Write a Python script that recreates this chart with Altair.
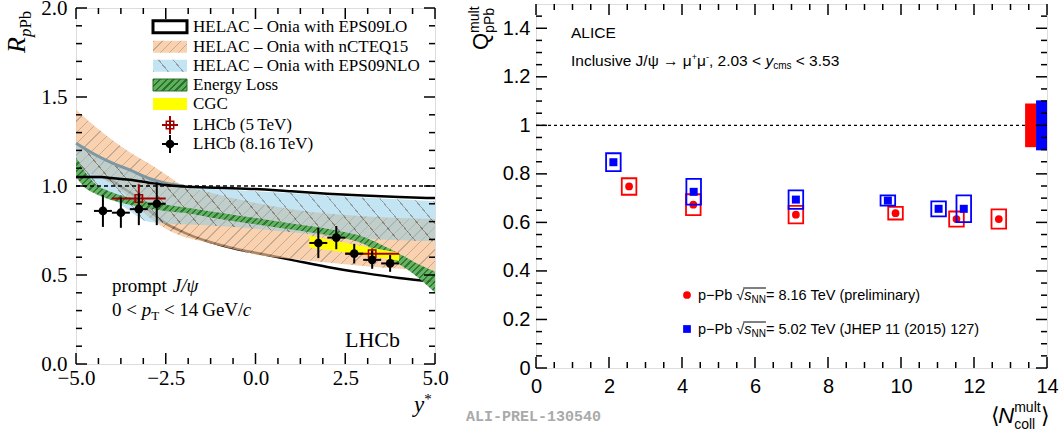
import math
import altair as alt
import pandas as pd

# ================= LEFT PANEL: LHCb prompt J/psi, R_pPb vs y* =================
eps09lo_up_x = [-5, -4.3, -4, -3.5, -3, -2.5, -2, -1, 0, 1, 2, 3, 4, 5]
eps09lo_up_y = [1.05, 1.05, 1.045, 1.035, 1.02, 1.005, 0.997, 0.99, 0.983, 0.97, 0.957, 0.946, 0.938, 0.932]
eps09lo_lo_x = [-5, -4.3, -4, -3.7, -3.4, -3.1, -2.8, -2.5, -2, -1.5, -1, -0.5, 0, 0.5, 1, 2, 3, 4, 5]
eps09lo_lo_y = [1.05, 1.05, 1.03, 0.99, 0.95, 0.89, 0.835, 0.79, 0.74, 0.70, 0.67, 0.645, 0.625, 0.605, 0.585, 0.545, 0.512, 0.483, 0.462]

ncteq_x = [-5, -4.5, -4, -3.5, -3, -2.5, -2, -1.5, -1, -0.5, 0, 1, 2, 3, 4, 5]
ncteq_hi = [1.43, 1.34, 1.26, 1.19, 1.13, 1.065, 1.0, 0.975, 0.95, 0.925, 0.905, 0.87, 0.845, 0.83, 0.82, 0.815]
ncteq_lo = [1.10, 1.06, 1.01, 0.93, 0.83, 0.76, 0.715, 0.69, 0.665, 0.64, 0.615, 0.59, 0.57, 0.55, 0.535, 0.52]

eps09nlo_x = [-5, -4.5, -4, -3.5, -3, -2.5, -2, -1, 0, 1, 2, 3, 4, 5]
eps09nlo_hi = [1.24, 1.18, 1.13, 1.09, 1.045, 1.015, 1.0, 0.985, 0.97, 0.96, 0.947, 0.935, 0.925, 0.915]
eps09nlo_lo = [1.08, 1.0, 0.93, 0.86, 0.80, 0.79, 0.785, 0.775, 0.76, 0.74, 0.72, 0.705, 0.695, 0.69]

eloss_x = [-5, -4.75, -4.5, -4, -3.5, -3, -2.5, -2, -1, 0, 1, 1.5, 2, 2.5, 3, 3.5, 4, 4.5, 5]
eloss_hi = [1.16, 1.08, 1.02, 0.965, 0.935, 0.91, 0.895, 0.88, 0.85, 0.82, 0.79, 0.775, 0.76, 0.74, 0.715, 0.67, 0.62, 0.565, 0.52]
eloss_lo = [1.05, 0.99, 0.96, 0.92, 0.895, 0.875, 0.86, 0.85, 0.815, 0.785, 0.755, 0.74, 0.725, 0.705, 0.675, 0.615, 0.56, 0.49, 0.40]

cgc_x = [1.5, 2.75, 4.0]
cgc_hi = [0.72, 0.67, 0.625]
cgc_lo = [0.655, 0.62, 0.58]

lhcb8_ystar = [-4.25, -3.75, -3.25, -2.75, 1.75, 2.25, 2.75, 3.25, 3.75]
lhcb8_r = [0.86, 0.85, 0.87, 0.90, 0.68, 0.71, 0.62, 0.585, 0.565]
lhcb8_err = [0.09, 0.085, 0.09, 0.12, 0.085, 0.065, 0.055, 0.05, 0.047]
lhcb8_halfbin = [0.25, 0.25, 0.25, 0.25, 0.25, 0.25, 0.25, 0.25, 0.25]

lhcb5_ystar = [-3.25, 3.25]
lhcb5_r = [0.93, 0.62]
lhcb5_err = [0.08, 0.03]
lhcb5_halfbin = [0.75, 0.75]

left_legend = ["HELAC \u2013 Onia with EPS09LO", "HELAC \u2013 Onia with nCTEQ15",
               "HELAC \u2013 Onia with EPS09NLO", "Energy Loss", "CGC",
               "LHCb (5\u2009TeV)", "LHCb (8.16\u2009TeV)"]

# ================= RIGHT PANEL: ALICE Q_pPb vs <Ncoll> =================
n8 = [2.55, 4.31, 7.12, 9.85, 11.52, 12.68]
q8 = [0.748, 0.673, 0.632, 0.638, 0.614, 0.614]
s8 = [0.034, 0.043, 0.036, 0.026, 0.031, 0.040]
n5 = [2.12, 4.32, 7.12, 9.64, 11.03, 11.72]
q5 = [0.848, 0.726, 0.694, 0.690, 0.656, 0.656]
s5 = [0.037, 0.053, 0.038, 0.021, 0.031, 0.055]
box_halfwidth = [0.2, 0.2, 0.2, 0.2, 0.2, 0.2]
glob_n0 = [13.4, 13.7]
glob_n1 = [13.7, 14.0]
glob_err = [0.09, 0.103]

# ================= helpers =================
LW, LH = 359, 356
RW, RH = 511, 364
SERIF, SANS, MONO = "Liberation Serif", "Liberation Sans", "Liberation Mono"

TIMES_W = {' ': 250, '\u2009': 167, '(': 333, ')': 333, '.': 250, '/': 278, '<': 564,
           '\u2013': 500, '*': 500,
           'A': 722, 'C': 667, 'E': 611, 'G': 722, 'H': 722, 'J': 444, 'L': 611, 'N': 722, 'O': 722,
           'P': 611, 'R': 611, 'S': 556, 'T': 611, 'V': 722, 'a': 444, 'b': 500, 'c': 444, 'e': 444,
           'g': 500, 'h': 500, 'i': 278, 'l': 278, 'm': 778, 'n': 500, 'o': 500, 'p': 500, 'r': 389,
           's': 389, 't': 278, 'w': 722, 'y': 444, '\u03c8': 686}
ARIAL_W = {' ': 278, '(': 333, ')': 333, '+': 584, ',': 278, '-': 333, '.': 278, '/': 278,
           '<': 584, '=': 584, 'A': 667, 'C': 722, 'E': 667, 'H': 722, 'I': 278, 'J': 500, 'L': 556,
           'N': 722, 'P': 667, 'Q': 778, 'T': 611, 'V': 667, 'a': 556, 'b': 556, 'c': 500, 'e': 556,
           'i': 222, 'l': 222, 'm': 833, 'n': 556, 'o': 556, 'p': 556, 'r': 333, 's': 500, 't': 278,
           'u': 556, 'v': 500, 'y': 500, '\u03c8': 712, '\u03bc': 576, '\u2192': 1000, '\u2212': 584,
           '\u221a': 549, '\u27e8': 333, '\u27e9': 333}


def text_width(s, size, table):
    tot = 0
    for c in s:
        if c.isdigit():
            tot += 500 if table is TIMES_W else 556
        else:
            tot += table.get(c, 500)
    return tot / 1000.0 * size


ONE = pd.DataFrame({"d": [0]})


def txt(t, x, y, size, font, italic=False, align="left", baseline="alphabetic",
        angle=0, color="black", weight="normal"):
    kw = dict(text=t, font=font, fontSize=size, align=align, baseline=baseline,
              color=color, fontWeight=weight)
    if italic:
        kw["fontStyle"] = "italic"
    if angle:
        kw["angle"] = angle
    return alt.Chart(ONE).mark_text(**kw).encode(x=alt.value(x), y=alt.value(y))


def rich(pieces, x0, y0, font, table, angle=0, color="black"):
    """Lay out text pieces one after another (leading blanks become an offset, as the
    renderer trims them)."""
    out, adv = [], 0.0
    for p in pieces:
        t, size, shift, italic = p[:4]
        advance = p[4] if len(p) > 4 else True
        lead = len(t) - len(t.lstrip(" "))
        off = adv + text_width(t[:lead], size, table)
        if angle == 0:
            x, y = x0 + off, y0 + shift
        else:
            x, y = x0 + shift, y0 - off
        out.append(txt(t.strip(" "), x, y, size, font, italic, angle=angle, color=color))
        if advance:
            adv += text_width(t, size, table)
    return out


def hatch_fill(W, H, spacing, lw, base, line, slope=1.0, rising=True):
    r = slope * W / H
    b = (r + 1.0) / (r * r + 1.0)
    a = r * b
    L = (a + b) / math.hypot(a / W, b / H)
    n = max(1, int(round(L / spacing)))
    f = min(0.9, lw / spacing)
    stops = []
    for i in range(n):
        o0, o1, o2 = i / n, (i + f) / n, (i + 1) / n
        stops += [alt.GradientStop(color=line, offset=round(o0, 6)),
                  alt.GradientStop(color=line, offset=round(o1, 6)),
                  alt.GradientStop(color=base, offset=round(o1, 6)),
                  alt.GradientStop(color=base, offset=round(o2, 6))]
    if rising:
        return alt.LinearGradient(gradient="linear", stops=stops, x1=0, y1=0, x2=a, y2=b)
    return alt.LinearGradient(gradient="linear", stops=stops, x1=0, y1=1, x2=a, y2=1 - b)


# ---------- left scales / axes ----------
xl = alt.Scale(domain=[-5, 5], nice=False, zero=False)
yl = alt.Scale(domain=[0, 2], nice=False, zero=False)
ax_lx = alt.Axis(values=[-5, -2.5, 0, 2.5, 5], labelExpr="replace(format(datum.value, '.1f'), '-', '\u2212')",
                 ticks=False, tickSize=0, domain=False, grid=False, title=None, labelFont=SERIF,
                 labelFontSize=21, labelColor="black", labelPadding=3, labelFlush=False, labelOverlap=False)
ax_ly = alt.Axis(values=[0, 0.5, 1, 1.5, 2], format=".1f", ticks=False, tickSize=0, domain=False, grid=False,
                 title=None, labelFont=SERIF, labelFontSize=21, labelColor="black", labelPadding=9,
                 labelFlush=False, labelOverlap=False)


def LX(f):
    return alt.X(f, scale=xl, axis=ax_lx)


def LY(f):
    return alt.Y(f, scale=yl, axis=ax_ly)


def band_bbox(xs, lo, hi):
    return ((max(xs) - min(xs)) / 10.0 * LW, (max(hi) - min(lo)) / 2.0 * LH)


def band_area(xs, lo, hi, fill, opacity):
    df = pd.DataFrame({"x": xs, "lo": lo, "hi": hi})
    return alt.Chart(df).mark_area(fill=fill, opacity=opacity, interpolate="monotone").encode(
        x=LX("x:Q"), y=LY("lo:Q"), y2="hi:Q")


def curve(xs, ys, color, width, X, Y, dash=None):
    df = pd.DataFrame({"x": xs, "y": ys})
    kw = dict(color=color, strokeWidth=width, interpolate="monotone")
    if dash:
        kw["strokeDash"] = dash
    return alt.Chart(df).mark_line(**kw).encode(x=X("x:Q"), y=Y("y:Q"))


def ticks_x(values, length, X, H, width=1.5):
    df = pd.DataFrame({"v": values})
    b = alt.Chart(df).mark_rule(color="black", strokeWidth=width)
    return [b.encode(x=X("v:Q"), y=alt.value(H), y2=alt.value(H - length)),
            b.encode(x=X("v:Q"), y=alt.value(0), y2=alt.value(length))]


def ticks_y(values, length, Y, W, width=1.5):
    df = pd.DataFrame({"v": values})
    b = alt.Chart(df).mark_rule(color="black", strokeWidth=width)
    return [b.encode(y=Y("v:Q"), x=alt.value(0), x2=alt.value(length)),
            b.encode(y=Y("v:Q"), x=alt.value(W), x2=alt.value(W - length))]


ORANGE_BASE, ORANGE_LINE = "rgb(247,190,140)", "rgb(170,135,105)"
BLUE_BASE, BLUE_LINE = "rgb(135,201,229)", "rgb(40,60,70)"
GREEN_BASE, GREEN_LINE = "rgb(95,175,95)", "rgb(40,115,40)"

left_layers = []
left_layers.append(curve(eps09lo_lo_x, eps09lo_lo_y, "black", 2.5, LX, LY))
W, H = band_bbox(ncteq_x, ncteq_lo, ncteq_hi)
left_layers.append(band_area(ncteq_x, ncteq_lo, ncteq_hi,
                             hatch_fill(W, H, 8, 1.0, ORANGE_BASE, ORANGE_LINE, 1.0, True), 0.7))
W, H = band_bbox(eps09nlo_x, eps09nlo_lo, eps09nlo_hi)
left_layers.append(band_area(eps09nlo_x, eps09nlo_lo, eps09nlo_hi,
                             hatch_fill(W, H, 13, 1.0, BLUE_BASE, BLUE_LINE, 1.2, False), 0.5))
nlo_df = pd.DataFrame({"x": eps09nlo_x, "y": eps09nlo_hi})
left_layers.append(alt.Chart(nlo_df).transform_filter("datum.x <= -2").mark_line(
    color="rgb(125,152,163)", strokeWidth=3, interpolate="monotone").encode(x=LX("x:Q"), y=LY("y:Q")))
W, H = band_bbox(eloss_x, eloss_lo, eloss_hi)
left_layers.append(band_area(eloss_x, eloss_lo, eloss_hi,
                             hatch_fill(W, H, 4.5, 1.6, GREEN_BASE, GREEN_LINE, 1.0, True), 0.95))
left_layers.append(band_area(cgc_x, cgc_lo, cgc_hi, "#ffff00", 1.0))
left_layers.append(curve(eps09lo_up_x, eps09lo_up_y, "black", 2.5, LX, LY))
left_layers.append(curve([-5, 5], [1, 1], "black", 1.5, LX, LY, dash=[4, 3]))

# data points: LHCb 5 TeV (red open squares), LHCb 8.16 TeV (black dots)
p5 = alt.Chart(pd.DataFrame({"x": lhcb5_ystar, "r": lhcb5_r, "e": lhcb5_err, "h": lhcb5_halfbin})
               ).transform_calculate(xlo="datum.x - datum.h", xhi="datum.x + datum.h",
                                     rlo="datum.r - datum.e", rhi="datum.r + datum.e")
left_layers.append(p5.mark_rule(color="#a00000", strokeWidth=2).encode(x=LX("xlo:Q"), x2="xhi:Q", y=LY("r:Q")))
left_layers.append(p5.mark_rule(color="#a00000", strokeWidth=2).encode(x=LX("x:Q"), y=LY("rlo:Q"), y2="rhi:Q"))
left_layers.append(p5.mark_point(shape="square", filled=False, size=55, color="#a00000", strokeWidth=1.5,
                                 opacity=1).encode(x=LX("x:Q"), y=LY("r:Q")))
p8 = alt.Chart(pd.DataFrame({"x": lhcb8_ystar, "r": lhcb8_r, "e": lhcb8_err, "h": lhcb8_halfbin})
               ).transform_calculate(xlo="datum.x - datum.h", xhi="datum.x + datum.h",
                                     rlo="datum.r - datum.e", rhi="datum.r + datum.e")
left_layers.append(p8.mark_rule(color="black", strokeWidth=2).encode(x=LX("xlo:Q"), x2="xhi:Q", y=LY("r:Q")))
left_layers.append(p8.mark_rule(color="black", strokeWidth=2).encode(x=LX("x:Q"), y=LY("rlo:Q"), y2="rhi:Q"))
left_layers.append(p8.mark_point(shape="circle", filled=True, size=75, color="black", opacity=1).encode(
    x=LX("x:Q"), y=LY("r:Q")))

# inward ticks
lx_major = [-5, -2.5, 0, 2.5, 5]
lx_minor = [-4.375, -3.75, -3.125, -1.875, -1.25, -0.625, 0.625, 1.25, 1.875, 3.125, 3.75, 4.375]
ly_major = [0, 0.5, 1, 1.5, 2]
ly_minor = [0.1, 0.2, 0.3, 0.4, 0.6, 0.7, 0.8, 0.9, 1.1, 1.2, 1.3, 1.4, 1.6, 1.7, 1.8, 1.9]
left_layers += ticks_x(lx_major, 11, LX, LH) + ticks_x(lx_minor, 6, LX, LH)
left_layers += ticks_y(ly_major, 11, LY, LW) + ticks_y(ly_minor, 6, LY, LW)

# legend (left)
rows = [18.7, 38.7, 57.7, 77, 96, 117, 136]
bx0, bx1, bh = 77, 111, 12


def legbox(yc, **kw):
    return alt.Chart(ONE).mark_rect(**kw).encode(x=alt.value(bx0), x2=alt.value(bx1),
                                                 y=alt.value(yc - bh / 2), y2=alt.value(yc + bh / 2))


left_layers.append(legbox(rows[0], fill="white", stroke="black", strokeWidth=3))
left_layers.append(legbox(rows[1], fill=hatch_fill(34, 12, 7, 1.0, ORANGE_BASE, ORANGE_LINE, 1.0, True), opacity=0.7))
left_layers.append(legbox(rows[2], fill=hatch_fill(34, 12, 10, 1.0, BLUE_BASE, BLUE_LINE, 1.2, False), opacity=0.5))
left_layers.append(legbox(rows[3], fill=hatch_fill(34, 12, 4.5, 1.6, GREEN_BASE, GREEN_LINE, 1.0, True),
                          stroke=GREEN_LINE, strokeWidth=1))
left_layers.append(legbox(rows[4], fill="#ffff00"))
mx = (bx0 + bx1) / 2
for yc, col, shape, filled, sz in [(rows[5], "#a00000", "square", False, 55), (rows[6], "black", "circle", True, 75)]:
    left_layers.append(alt.Chart(ONE).mark_rule(color=col, strokeWidth=2).encode(
        x=alt.value(mx - 8), x2=alt.value(mx + 8), y=alt.value(yc)))
    left_layers.append(alt.Chart(ONE).mark_rule(color=col, strokeWidth=2).encode(
        x=alt.value(mx), y=alt.value(yc - 9), y2=alt.value(yc + 9)))
    left_layers.append(alt.Chart(ONE).mark_point(shape=shape, filled=filled, size=sz, color=col, opacity=1,
                                                 strokeWidth=1.5).encode(x=alt.value(mx), y=alt.value(yc)))
for yc, lab in zip(rows, left_legend):
    left_layers.append(txt(lab, 117, yc, 17, SERIF, baseline="middle"))

# left annotations
left_layers += rich([("prompt ", 19, 0, False), ("J/\u03c8", 19, 0, True)], 36, 284, SERIF, TIMES_W)
left_layers += rich([("0 < ", 19, 0, False), ("p", 19, 0, True), ("T", 13, 4, False),
                     (" < 14\u2009GeV/", 19, 0, False), ("c", 19, 0, True)], 36, 308, SERIF, TIMES_W)
left_layers.append(txt("LHCb", 269, 339, 22, SERIF))
left_layers += rich([("y", 23, 0, True), ("*", 15, -8, False)], 338, 404, SERIF, TIMES_W)
left_layers += rich([("R", 26, 0, True), ("p", 17, 6, True), ("Pb", 17, 6, False)], -51, 45, SERIF, TIMES_W,
                    angle=270)

left = alt.layer(*left_layers).properties(width=LW, height=LH)

# ---------- right scales / axes ----------
xr = alt.Scale(domain=[0, 14], nice=False, zero=False)
yr = alt.Scale(domain=[0, 1.5], nice=False, zero=False)
ax_rx = alt.Axis(values=[0, 2, 4, 6, 8, 10, 12, 14], format="d", ticks=False, tickSize=0, domain=False,
                 grid=False, title=None, labelFont=SANS, labelFontSize=20, labelColor="black", labelPadding=8,
                 labelFlush=False, labelOverlap=False)
ax_ry = alt.Axis(values=[0, 0.2, 0.4, 0.6, 0.8, 1, 1.2, 1.4], format="~g", ticks=False, tickSize=0,
                 domain=False, grid=False, title=None, labelFont=SANS, labelFontSize=20, labelColor="black",
                 labelPadding=6, labelFlush=False, labelOverlap=False)


def RX(f):
    return alt.X(f, scale=xr, axis=ax_rx)


def RY(f):
    return alt.Y(f, scale=yr, axis=ax_ry)


right_layers = []
right_layers.append(alt.Chart(pd.DataFrame({"n0": [0], "n1": [glob_n0[0]], "q": [1]})).mark_rule(
    color="black", strokeWidth=1.3, strokeDash=[3, 3]).encode(x=RX("n0:Q"), x2="n1:Q", y=RY("q:Q")))
for i, col in enumerate(["#ff0000", "#0000ff"]):
    g = pd.DataFrame({"n0": [glob_n0[i]], "n1": [glob_n1[i]], "e": [glob_err[i]]})
    right_layers.append(alt.Chart(g).transform_calculate(q0="1 - datum.e", q1="1 + datum.e").mark_rect(
        color=col, opacity=1).encode(x=RX("n0:Q"), x2="n1:Q", y=RY("q0:Q"), y2="q1:Q"))

for ns, qs, ss, col, shape, sz in [(n8, q8, s8, "#ff0000", "circle", 60), (n5, q5, s5, "#0000ff", "square", 64)]:
    d = alt.Chart(pd.DataFrame({"n": ns, "q": qs, "s": ss, "w": box_halfwidth})).transform_calculate(
        n0="datum.n - datum.w", n1="datum.n + datum.w", q0="datum.q - datum.s", q1="datum.q + datum.s")
    right_layers.append(d.mark_rect(fill="transparent", stroke=col, strokeWidth=1.8).encode(
        x=RX("n0:Q"), x2="n1:Q", y=RY("q0:Q"), y2="q1:Q"))
    right_layers.append(d.mark_point(shape=shape, filled=True, size=sz, color=col, opacity=1).encode(
        x=RX("n:Q"), y=RY("q:Q")))

rx_major = [0, 2, 4, 6, 8, 10, 12, 14]
rx_minor = [0.5, 1, 1.5, 2.5, 3, 3.5, 4.5, 5, 5.5, 6.5, 7, 7.5, 8.5, 9, 9.5, 10.5, 11, 11.5, 12.5, 13, 13.5]
ry_major = [0, 0.2, 0.4, 0.6, 0.8, 1.0, 1.2, 1.4]
ry_minor = [0.05, 0.1, 0.15, 0.25, 0.3, 0.35, 0.45, 0.5, 0.55, 0.65, 0.7, 0.75, 0.85, 0.9, 0.95,
            1.05, 1.1, 1.15, 1.25, 1.3, 1.35, 1.45]
right_layers += ticks_x(rx_major, 11, RX, RH) + ticks_x(rx_minor, 6, RX, RH)
right_layers += ticks_y(ry_major, 11, RY, RW) + ticks_y(ry_minor, 6, RY, RW)

# right annotations
right_layers.append(txt("ALICE", 35, 34, 15.5, SANS))
right_layers += rich([("Inclusive J/\u03c8 \u2192 \u03bc", 15.5, 0, False), ("+", 9, -6, False),
                      ("\u03bc", 15.5, 0, False), ("-", 9, -6, False), (", 2.03 < ", 15.5, 0, False),
                      ("y", 15.5, 0, True), ("cms", 10, 3, False), (" < 3.53", 15.5, 0, False)],
                     35, 61.5, SANS, ARIAL_W)
for yc, col, shape, lab in [(291, "#ff0000", "circle", "= 8.16 TeV (preliminary)"),
                            (325, "#0000ff", "square", "= 5.02 TeV (JHEP 11 (2015) 127)")]:
    right_layers.append(alt.Chart(ONE).mark_point(shape=shape, filled=True, size=60, color=col, opacity=1).encode(
        x=alt.value(151), y=alt.value(yc)))
    base_y = yc + 5
    pieces = [("p\u2212Pb ", 14.5, 0, False), ("\u221a", 14.5, 0, False), ("s", 14.5, 0, True),
              ("NN", 10, 3, False), (lab, 14.5, 0, False)]
    right_layers += rich(pieces, 162, base_y, SANS, ARIAL_W)
    x_ol0 = 162 + text_width("p\u2212Pb ", 14.5, ARIAL_W) + text_width("\u221a", 14.5, ARIAL_W) - 1
    x_ol1 = x_ol0 + 1 + text_width("s", 14.5, ARIAL_W) + text_width("NN", 10, ARIAL_W)
    right_layers.append(alt.Chart(ONE).mark_rule(color="black", strokeWidth=1).encode(
        x=alt.value(x_ol0), x2=alt.value(x_ol1), y=alt.value(base_y - 12)))

right_layers += rich([("Q", 22, 0, False), ("mult", 14, -9, False, False), ("pPb", 14, 6, False)],
                     -48, 46, SANS, ARIAL_W, angle=270)
right_layers += rich([("\u27e8", 22, 0, False), ("N", 22, 0, True), ("coll", 14, 6, False, False),
                      ("mult", 14, -11, False), ("\u27e9", 22, 0, False)], 455, 419, SANS, ARIAL_W)
right_layers.append(txt("ALI-PREL-130540", -70, 417, 15, MONO, color="#aaaaaa", weight="bold"))

right = alt.layer(*right_layers).properties(width=RW, height=RH)

chart = alt.hconcat(left, right, spacing=101, bounds="flush", center=True).properties(
    autosize=alt.AutoSizeParams(type="none"),
    padding={"left": 76, "top": 4, "right": 1063 - 76, "bottom": 429 - 4},
).configure_view(stroke="black", strokeWidth=2).configure(background="white")

chart.save("out.html", embed_options={"renderer": "svg", "actions": False})
